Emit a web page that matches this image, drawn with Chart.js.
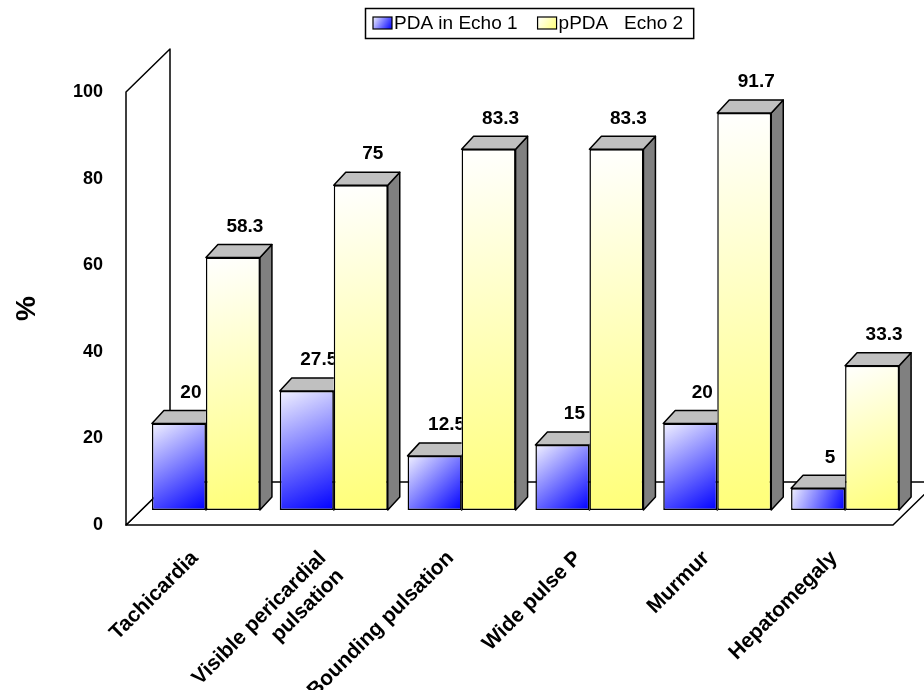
<!DOCTYPE html>
<html><head><meta charset="utf-8">
<script src="https://cdn.jsdelivr.net/npm/chart.js@4/dist/chart.umd.min.js"></script>
<style>html,body{margin:0;padding:0;background:#fff;}</style>
</head><body>
<canvas id="c" width="924" height="690"></canvas>
<script>
// ---- data ----
const categories = ['Tachicardia', ['Visible pericardial', 'pulsation'], 'Bounding pulsation', 'Wide pulse P', 'Murmur', 'Hepatomegaly'];
const seriesNames = ['PDA in Echo 1', 'pPDA   Echo 2'];
const pdaEcho1 = [20, 27.5, 12.5, 15, 20, 5];
const ppdaEcho2 = [58.3, 75, 83.3, 83.3, 91.7, 33.3];
const yTickValues = [0, 20, 40, 60, 80, 100];

// ---- style ----
const FONT = '"Liberation Sans", Arial, Helvetica, sans-serif';
const DEPTH = { barX: 16, barY: -15, wallX: 44, wallY: -43, faceX: 12, faceY: -13 };
const GRAD = [['#F2F2FF', '#0000FF'], ['#FFFFFF', '#FFFF78']];
const CAT_PCT = 0.845;

Chart.defaults.font.family = FONT;
Chart.defaults.color = '#000';

function poly(ctx, pts) {
  ctx.beginPath();
  ctx.moveTo(pts[0][0], pts[0][1]);
  for (let i = 1; i < pts.length; i++) ctx.lineTo(pts[i][0], pts[i][1]);
  ctx.closePath();
  ctx.fill();
  ctx.stroke();
}

function barGradient(c) {
  const stops = GRAD[c.datasetIndex] || GRAD[0];
  if (c.type !== 'data') return stops[1];
  const chart = c.chart, xs = chart.scales.x, ys = chart.scales.y;
  if (!xs || !ys || !xs.width) return stops[1];
  const center = xs.getPixelForValue(c.dataIndex);
  const barW = xs.width / categories.length * CAT_PCT / 2;
  const left = c.datasetIndex === 0 ? center - barW : center;
  const top = ys.getPixelForValue(c.raw);
  const bottom = ys.getPixelForValue(0);
  const g = chart.ctx.createLinearGradient(left, top, left + barW, bottom);
  g.addColorStop(0, stops[0]);
  g.addColorStop(1, stops[1]);
  return g;
}

function rectOf(el) {
  const p = el.getProps(['x', 'y', 'base', 'width'], true);
  return { left: p.x - p.width / 2, right: p.x + p.width / 2, top: Math.min(p.y, p.base), bottom: Math.max(p.y, p.base) };
}

function drawFaces(ctx, el) {
  const r = rectOf(el), fx = DEPTH.faceX, fy = DEPTH.faceY;
  ctx.lineWidth = 1.5; ctx.strokeStyle = '#000'; ctx.lineJoin = 'round';
  ctx.fillStyle = '#808080';
  poly(ctx, [[r.right, r.top], [r.right + fx, r.top + fy], [r.right + fx, r.bottom + fy], [r.right, r.bottom]]);
  ctx.fillStyle = '#C0C0C0';
  poly(ctx, [[r.left, r.top], [r.left + fx, r.top + fy], [r.right + fx, r.top + fy], [r.right, r.top]]);
}

function drawLabel(ctx, el, v) {
  const r = rectOf(el);
  ctx.font = 'bold 19px ' + FONT;
  ctx.fillStyle = '#000'; ctx.textAlign = 'center'; ctx.textBaseline = 'middle';
  ctx.fillText(String(v), (r.left + r.right) / 2 + DEPTH.faceX, r.top + DEPTH.faceY - 18);
}

const threeD = {
  id: 'threeD',
  beforeDatasetsDraw(chart) {
    const { ctx, chartArea: a } = chart;
    const wx = DEPTH.wallX, wy = DEPTH.wallY;
    ctx.save();
    ctx.lineWidth = 1.5; ctx.strokeStyle = '#000'; ctx.fillStyle = '#fff'; ctx.lineJoin = 'round';
    poly(ctx, [[a.left, a.bottom], [a.right, a.bottom], [a.right + wx, a.bottom + wy], [a.left + wx, a.bottom + wy]]);
    poly(ctx, [[a.left, a.bottom], [a.left, a.top], [a.left + wx, a.top + wy], [a.left + wx, a.bottom + wy]]);
    ctx.restore();
    ctx.save();
    ctx.translate(DEPTH.barX, DEPTH.barY);
  },
  afterDatasetsDraw(chart) {
    const ctx = chart.ctx;
    const m0 = chart.getDatasetMeta(0), m1 = chart.getDatasetMeta(1);
    m0.data.forEach((el, i) => {
      const r1 = rectOf(m1.data[i]);
      ctx.save();
      ctx.beginPath();
      ctx.rect(-2000, -2000, 6000, 6000);
      ctx.rect(r1.left, r1.top, r1.right - r1.left, r1.bottom - r1.top);
      ctx.clip('evenodd');
      drawFaces(ctx, el);
      drawLabel(ctx, el, pdaEcho1[i]);
      ctx.restore();
    });
    m1.data.forEach((el, i) => {
      ctx.save();
      drawFaces(ctx, el);
      drawLabel(ctx, el, ppdaEcho2[i]);
      ctx.restore();
    });
    ctx.restore();
  }
};

const legendBox = {
  id: 'legendBox',
  afterDraw(chart) {
    const ctx = chart.ctx;
    const x0 = 365, y0 = 8, h = 30, sw = 19, sh = 12;
    ctx.save();
    ctx.font = '19px ' + FONT;
    ctx.textBaseline = 'middle'; ctx.textAlign = 'left';
    let x = x0 + 8;
    const cy = y0 + h / 2;
    chart.data.datasets.forEach((ds, i) => {
      const g = ctx.createLinearGradient(x, cy - sh / 2, x + sw, cy + sh / 2);
      g.addColorStop(0, GRAD[i][0]); g.addColorStop(1, GRAD[i][1]);
      ctx.fillStyle = g; ctx.strokeStyle = '#000'; ctx.lineWidth = 1.2;
      ctx.fillRect(x, cy - sh / 2, sw, sh);
      ctx.strokeRect(x, cy - sh / 2, sw, sh);
      x += sw + 2;
      ctx.fillStyle = '#000';
      ctx.fillText(ds.label, x, cy + 1);
      x += ctx.measureText(ds.label).width + 20;
    });
    const w = x - 20 + 10 - x0;
    ctx.lineWidth = 1.5; ctx.strokeStyle = '#000';
    ctx.strokeRect(x0 + 0.5, y0 + 0.5, w, h);
    ctx.restore();
  }
};

const barStyle = {
  backgroundColor: barGradient,
  borderColor: '#000',
  borderWidth: 1.5,
  borderSkipped: false,
  categoryPercentage: CAT_PCT,
  barPercentage: 1,
  clip: false
};

new Chart(document.getElementById('c'), {
  type: 'bar',
  data: {
    labels: categories,
    datasets: [
      Object.assign({ label: seriesNames[0], data: pdaEcho1 }, barStyle),
      Object.assign({ label: seriesNames[1], data: ppdaEcho2 }, barStyle)
    ]
  },
  options: {
    responsive: false,
    animation: false,
    devicePixelRatio: 1,
    layout: { padding: { top: 92, right: 31, left: 0, bottom: 0 } },
    plugins: { legend: { display: false }, tooltip: { enabled: false }, colors: { enabled: false } },
    scales: {
      x: {
        grid: { display: false },
        border: { display: false },
        ticks: { autoSkip: false, minRotation: 45, maxRotation: 45, padding: 13, labelOffset: 5, color: '#000', font: { size: 21, weight: 'bold' } },
        afterFit(s) { s.height = 165; }
      },
      y: {
        min: 0, max: 100,
        grid: { display: false },
        border: { display: false },
        afterBuildTicks(s) { s.ticks = yTickValues.map(v => ({ value: v })); },
        ticks: { padding: 15, color: '#000', font: { size: 18, weight: 'bold' } },
        title: { display: true, text: '%', color: '#000', font: { size: 28, weight: 'bold' }, padding: { top: 10, bottom: 0 } },
        afterFit(s) { s.width = 126; }
      }
    }
  },
  plugins: [threeD, legendBox]
});
</script>
</body></html>
